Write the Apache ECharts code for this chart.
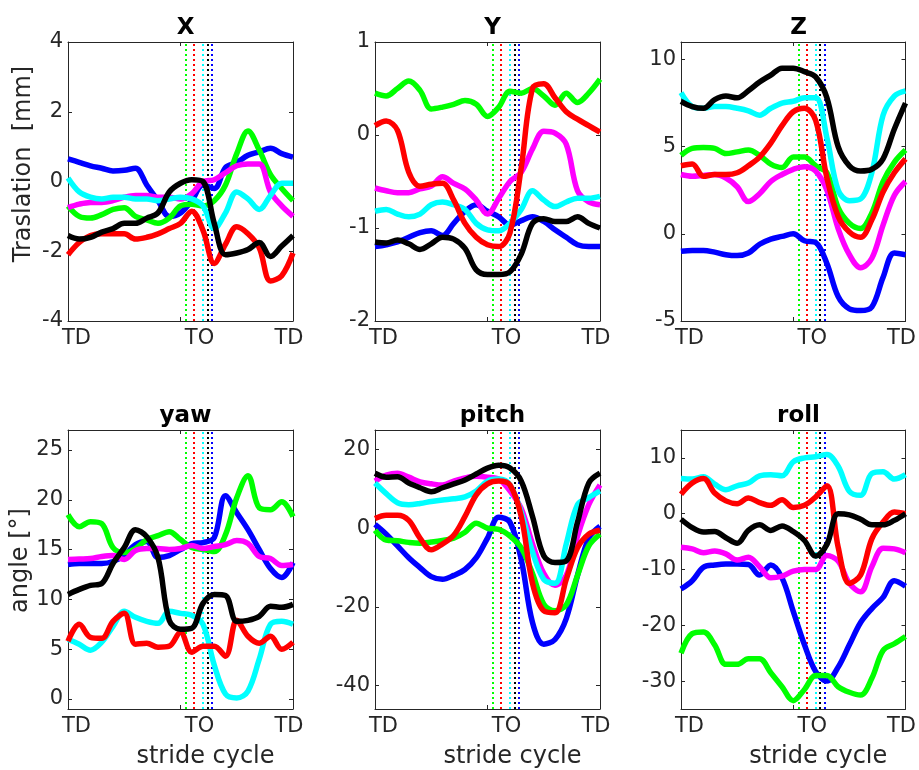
<!DOCTYPE html>
<html>
<head>
<meta charset="utf-8">
<script src="https://cdn.jsdelivr.net/npm/echarts@6/dist/echarts.min.js"></script>
<style>
  html, body { margin: 0; padding: 0; background: #fff; }
  #chart { width: 919px; height: 770px; }
</style>
</head>
<body>
<div id="chart"></div>
<script>
// stride cycle in percent (TD = 0, TD = 100)
const pct = [0, 5, 10, 15, 20, 25, 30, 35, 40, 45, 50, 55, 60, 65, 70, 75, 80, 85, 90, 95, 100];

// toe-off instant of each subject, in percent of stride
const toPct = [52.5, 56, 60, 62, 62, 64];
const toColors = ['#00ff00', '#ff0000', '#00ffff', '#ff00ff', '#000000', '#0000ff'];

// draw order of the subjects
const subjects = ['blue', 'green', 'magenta', 'cyan', 'red', 'black'];
const subjectColors = {
    blue: '#0000ff', green: '#00ff00', magenta: '#ff00ff',
    cyan: '#00ffff', red: '#ff0000', black: '#000000'
};

const transX = {
    blue: [0.65, 0.55, 0.45, 0.38, 0.3, 0.32, 0.38, -0.1, -0.55, -1.0, -0.9, -0.55, -0.1, -0.2, 0.4, 0.55, 0.75, 0.85, 0.95, 0.8, 0.7],
    green: [-0.7, -1.0, -1.05, -0.95, -0.8, -0.75, -1.0, -1.1, -1.2, -1.05, -0.7, -0.65, -0.7, -0.55, -0.1, 0.8, 1.45, 0.9, 0.2, -0.2, -0.55],
    magenta: [-0.75, -0.65, -0.6, -0.6, -0.55, -0.45, -0.4, -0.4, -0.45, -0.45, -0.5, -0.35, 0.0, 0.05, 0.25, 0.45, 0.5, 0.5, -0.3, -0.7, -1.0],
    cyan: [0.1, -0.3, -0.45, -0.5, -0.45, -0.45, -0.5, -0.5, -0.55, -0.5, -0.45, -0.5, -0.7, -1.35, -0.9, -0.3, -0.5, -0.8, -0.4, -0.05, -0.05],
    red: [-2.1, -1.75, -1.55, -1.5, -1.5, -1.5, -1.65, -1.6, -1.5, -1.35, -1.2, -0.85, -1.4, -2.35, -1.8, -1.3, -1.5, -1.9, -2.85, -2.7, -2.05],
    black: [-1.55, -1.65, -1.6, -1.45, -1.35, -1.2, -1.2, -1.05, -0.9, -0.3, -0.05, 0.05, 0.0, -1.2, -2.1, -2.05, -1.95, -1.75, -2.15, -1.85, -1.55]
};

const transY = {
    blue: [-1.2, -1.18, -1.15, -1.1, -1.05, -1.03, -1.08, -0.95, -0.82, -0.75, -0.82, -0.88, -0.97, -0.92, -0.88, -0.93, -1.02, -1.1, -1.18, -1.2, -1.2],
    green: [0.45, 0.42, 0.5, 0.58, 0.48, 0.28, 0.3, 0.33, 0.37, 0.33, 0.2, 0.3, 0.47, 0.45, 0.5, 0.42, 0.32, 0.45, 0.35, 0.45, 0.6],
    magenta: [-0.57, -0.6, -0.62, -0.62, -0.58, -0.55, -0.45, -0.52, -0.58, -0.7, -0.85, -0.68, -0.5, -0.4, -0.15, 0.04, 0.02, -0.1, -0.6, -0.72, -0.75],
    cyan: [-0.82, -0.8, -0.85, -0.88, -0.85, -0.75, -0.72, -0.75, -0.8, -0.95, -1.02, -1.03, -0.95, -0.8, -0.6, -0.7, -0.77, -0.72, -0.68, -0.68, -0.66],
    red: [0.1, 0.15, 0.05, -0.4, -0.55, -0.53, -0.52, -0.7, -0.95, -1.1, -1.18, -1.2, -1.05, -0.35, 0.5, 0.55, 0.4, 0.25, 0.17, 0.1, 0.03],
    black: [-1.15, -1.16, -1.13, -1.17, -1.23, -1.17, -1.1, -1.12, -1.22, -1.45, -1.5, -1.5, -1.47, -1.28, -0.95, -0.9, -0.93, -0.93, -0.88, -0.95, -1.0]
};

const transZ = {
    blue: [-1.0, -0.95, -0.95, -1.05, -1.2, -1.25, -1.1, -0.6, -0.3, -0.15, 0.0, -0.4, -0.5, -1.7, -3.6, -4.3, -4.4, -4.2, -2.5, -1.1, -1.2],
    green: [4.5, 4.9, 4.95, 4.9, 4.6, 4.7, 4.8, 4.5, 4.0, 3.8, 4.4, 4.4, 3.9, 3.5, 1.5, 0.6, 0.3, 1.2, 3.0, 4.1, 4.8],
    magenta: [3.4, 3.3, 3.35, 3.4, 3.2, 2.7, 1.85, 2.3, 3.0, 3.4, 3.7, 3.85, 3.6, 2.5, 0.3, -1.2, -1.95, -1.4, 0.5, 2.2, 3.0],
    cyan: [8.1, 7.3, 7.2, 7.3, 7.3, 7.2, 7.05, 6.8, 7.2, 7.5, 7.6, 7.8, 7.8, 5.5, 2.5, 1.9, 2.0, 3.5, 6.8, 7.9, 8.2],
    red: [3.9, 4.0, 3.3, 3.4, 3.4, 3.5, 3.9, 4.4, 5.2, 6.2, 7.0, 7.2, 6.5, 3.2, 1.0, 0.1, -0.2, 0.8, 2.4, 3.5, 4.3],
    black: [7.6, 7.3, 7.2, 7.7, 7.9, 7.8, 8.2, 8.7, 9.1, 9.5, 9.5, 9.3, 9.0, 7.8, 5.0, 3.9, 3.6, 3.7, 4.3, 6.0, 7.5]
};

const yaw = {
    blue: [13.5, 13.6, 13.6, 13.6, 13.8, 14.4, 15.5, 15.8, 14.2, 14.4, 15.0, 15.6, 15.7, 16.2, 20.4, 18.7, 17.0, 15.0, 13.1, 12.2, 13.7],
    green: [18.5, 17.3, 17.8, 17.6, 15.2, 14.7, 15.1, 16.0, 16.4, 16.8, 16.0, 15.2, 15.0, 14.8, 16.5, 20.2, 22.4, 19.2, 19.0, 19.8, 18.3],
    magenta: [14.0, 14.05, 14.1, 14.3, 14.4, 14.0, 14.9, 15.1, 15.1, 15.0, 15.1, 15.4, 15.1, 15.3, 15.5, 15.9, 15.6, 14.3, 14.1, 13.4, 13.5],
    cyan: [6.0, 5.5, 4.9, 5.7, 7.3, 8.8, 8.2, 7.8, 7.6, 8.8, 8.6, 8.4, 7.5, 3.4, 0.5, 0.1, 0.8, 4.0, 7.5, 7.8, 7.5],
    red: [5.8, 7.5, 6.2, 6.1, 7.8, 8.6, 5.5, 5.6, 5.2, 5.3, 6.7, 4.7, 5.3, 5.3, 4.3, 7.9, 6.3, 5.6, 6.3, 5.0, 5.7],
    black: [10.5, 11.0, 11.4, 11.6, 13.6, 15.2, 17.0, 16.3, 14.2, 7.9, 7.0, 7.1, 9.6, 10.5, 10.4, 7.8, 7.9, 8.3, 9.3, 9.2, 9.5]
};

const pitch = {
    blue: [1.0, -1.5, -4.5, -7.5, -10.0, -12.3, -13.0, -12.0, -10.5, -7.5, -2.5, 2.8, 1.5, -8.0, -24.0, -29.5, -28.3, -23.0, -12.0, -2.5, 0.5],
    green: [-0.5, -3.0, -3.2, -3.6, -3.8, -3.5, -3.1, -2.5, -1.0, 1.3, 0.0, -0.3, -2.0, -5.0, -11.5, -19.3, -21.0, -19.5, -12.0, -4.5, -1.5],
    magenta: [12.0, 13.5, 14.0, 13.0, 11.8, 11.3, 11.0, 12.0, 12.8, 13.2, 13.0, 12.5, 9.5, 5.0, -4.0, -11.5, -14.5, -12.0, -2.0, 6.0, 11.0],
    cyan: [11.5, 8.8, 6.5, 6.0, 6.3, 6.8, 7.2, 7.5, 8.0, 9.5, 12.0, 12.5, 11.0, 4.0, -6.0, -13.0, -14.0, -4.0, 6.0, 7.8, 9.5],
    red: [2.5, 3.3, 3.3, 2.0, -2.5, -5.5, -4.0, -1.8, 3.0, 8.5, 11.3, 12.0, 11.0, 3.0, -14.0, -21.0, -21.5, -13.0, -5.0, -1.5, -0.5],
    black: [14.0, 13.0, 13.1, 11.5, 10.3, 9.3, 10.3, 11.3, 12.3, 13.8, 15.3, 16.0, 15.3, 12.0, 3.0, -7.0, -8.7, -8.3, 1.5, 11.5, 14.0]
};

const roll = {
    blue: [-13.5, -12.0, -9.6, -9.2, -9.0, -9.0, -9.1, -11.0, -9.2, -11.5, -17.5, -23.5, -28.3, -30.0, -27.5, -23.5, -19.5, -17.0, -15.0, -12.0, -13.0],
    green: [-25.0, -21.5, -21.2, -23.5, -27.0, -27.0, -26.0, -26.0, -28.5, -31.0, -33.5, -31.5, -29.0, -29.0, -31.0, -32.0, -32.5, -29.5, -24.5, -23.3, -22.0],
    magenta: [-6.0, -6.3, -7.0, -6.7, -7.2, -8.3, -7.8, -9.5, -11.5, -11.2, -10.3, -10.0, -10.0, -7.5, -8.5, -12.5, -14.0, -9.5, -6.2, -6.3, -7.0],
    cyan: [6.3, 6.2, 6.6, 5.3, 4.3, 5.0, 5.5, 6.8, 7.0, 6.8, 9.3, 10.0, 10.2, 10.6, 8.5, 4.0, 3.3, 7.2, 7.5, 6.2, 7.0],
    red: [3.5, 5.5, 6.3, 3.7, 2.3, 1.8, 2.8, 2.0, 1.5, 2.5, 1.1, 1.5, 3.0, 5.0, -6.0, -12.5, -11.0, -4.5, -1.5, 0.3, 0.0],
    black: [-1.0, -2.5, -3.3, -3.2, -4.3, -5.3, -3.0, -2.0, -3.0, -2.2, -3.2, -4.8, -7.6, -5.5, 0.0, -0.2, -1.0, -2.0, -2.0, -1.2, 0.0]
};

const panels = [
    { title: 'X', data: transX, min: -4, max: 4, ticks: [-4, -2, 0, 2, 4], yName: 'Traslation  [mm]', yShift: 35 },
    { title: 'Y', data: transY, min: -2, max: 1, ticks: [-2, -1, 0, 1] },
    { title: 'Z', data: transZ, min: -5, max: 11, ticks: [-5, 0, 5, 10] },
    { title: 'yaw', data: yaw, min: -1, max: 27, ticks: [0, 5, 10, 15, 20, 25], yName: 'angle [°]', yShift: 18 },
    { title: 'pitch', data: pitch, min: -46, max: 25, ticks: [-40, -20, 0, 20] },
    { title: 'roll', data: roll, min: -35, max: 15, ticks: [-30, -20, -10, 0, 10] }
];

const gridLefts = [68, 375, 681];
const gridTops = [42, 430];
const gridW = 225;
const gridH = 279;
const axisColor = '#262626';

const chart = echarts.init(document.getElementById('chart'), null, { renderer: 'canvas' });

const grids = [], xAxes = [], yAxes = [], titles = [], series = [];

panels.forEach(function (p, i) {
    const col = i % 3;
    const row = Math.floor(i / 3);
    const left = gridLefts[col];
    const top = gridTops[row];

    grids.push({ left: left, top: top, width: gridW, height: gridH });

    titles.push({
        text: p.title,
        left: left + gridW / 2,
        top: top - 30,
        textAlign: 'center',
        textStyle: { fontSize: 23, fontWeight: 'bold', color: '#000', fontFamily: 'DejaVu Sans' }
    });

    // bottom x axis with TD / TO labels
    xAxes.push({
        gridIndex: i, type: 'value', min: 0, max: 100, position: 'bottom',
        axisLine: { show: true, onZero: false, lineStyle: { color: axisColor, width: 1 } },
        axisTick: { show: true, inside: true, length: 4, customValues: [0, 50, 100], lineStyle: { color: axisColor } },
        axisLabel: {
            customValues: [0, 50, 100],
            margin: 7,
            formatter: function (v) {
                if (v === 0) return '{l|TD}';
                if (v === 100) return '{r|TD}';
                return '{m|TO}';
            },
            rich: {
                l: { fontSize: 21, color: axisColor, padding: [0, 0, 0, 17] },
                m: { fontSize: 21, color: axisColor, padding: [0, 0, 0, 38] },
                r: { fontSize: 21, color: axisColor, padding: [0, 8, 0, 0] }
            }
        },
        splitLine: { show: false },
        name: row === 1 ? 'stride cycle' : '',
        nameLocation: 'middle',
        nameGap: 36,
        nameTextStyle: { fontSize: 24, color: axisColor, padding: [0, 0, 0, 50] }
    });
    // top x axis (box)
    xAxes.push({
        gridIndex: i, type: 'value', min: 0, max: 100, position: 'top',
        axisLine: { show: true, onZero: false, lineStyle: { color: axisColor, width: 1 } },
        axisTick: { show: true, inside: true, length: 4, customValues: [50], lineStyle: { color: axisColor } },
        axisLabel: { show: false },
        splitLine: { show: false }
    });

    yAxes.push({
        gridIndex: i, type: 'value', min: p.min, max: p.max, position: 'left',
        axisLine: { show: true, onZero: false, lineStyle: { color: axisColor, width: 1 } },
        axisTick: { show: true, inside: true, length: 4, customValues: p.ticks, lineStyle: { color: axisColor } },
        axisLabel: { customValues: p.ticks, margin: 5, fontSize: 21, color: axisColor },
        splitLine: { show: false },
        name: p.yName || '',
        nameLocation: 'middle',
        nameGap: 32,
        nameTextStyle: { fontSize: 24, color: axisColor, padding: [0, 0, 0, p.yShift || 0] }
    });
    yAxes.push({
        gridIndex: i, type: 'value', min: p.min, max: p.max, position: 'right',
        axisLine: { show: true, onZero: false, lineStyle: { color: axisColor, width: 1 } },
        axisTick: { show: true, inside: true, length: 4, customValues: p.ticks, lineStyle: { color: axisColor } },
        axisLabel: { show: false },
        splitLine: { show: false }
    });

    // dotted toe-off markers
    series.push({
        type: 'line', xAxisIndex: i * 2, yAxisIndex: i * 2, data: [], silent: true,
        markLine: {
            z: 1, silent: true, animation: false,
            symbol: ['none', 'none'],
            label: { show: false },
            data: toPct.map(function (x, k) {
                return { xAxis: x, lineStyle: { color: toColors[k], type: [2, 3], width: 2, opacity: 1 } };
            })
        }
    });

    subjects.forEach(function (s) {
        series.push({
            type: 'line', xAxisIndex: i * 2, yAxisIndex: i * 2,
            data: pct.map(function (x, k) { return [x, p.data[s][k]]; }),
            showSymbol: false, smooth: 0.35, z: 2,
            lineStyle: { color: subjectColors[s], width: 5.5 },
            itemStyle: { color: subjectColors[s] },
            animation: false, silent: true
        });
    });
});

chart.setOption({
    backgroundColor: '#ffffff',
    animation: false,
    textStyle: { fontFamily: 'DejaVu Sans' },
    title: titles,
    grid: grids,
    xAxis: xAxes,
    yAxis: yAxes,
    series: series
});
</script>
</body>
</html>
